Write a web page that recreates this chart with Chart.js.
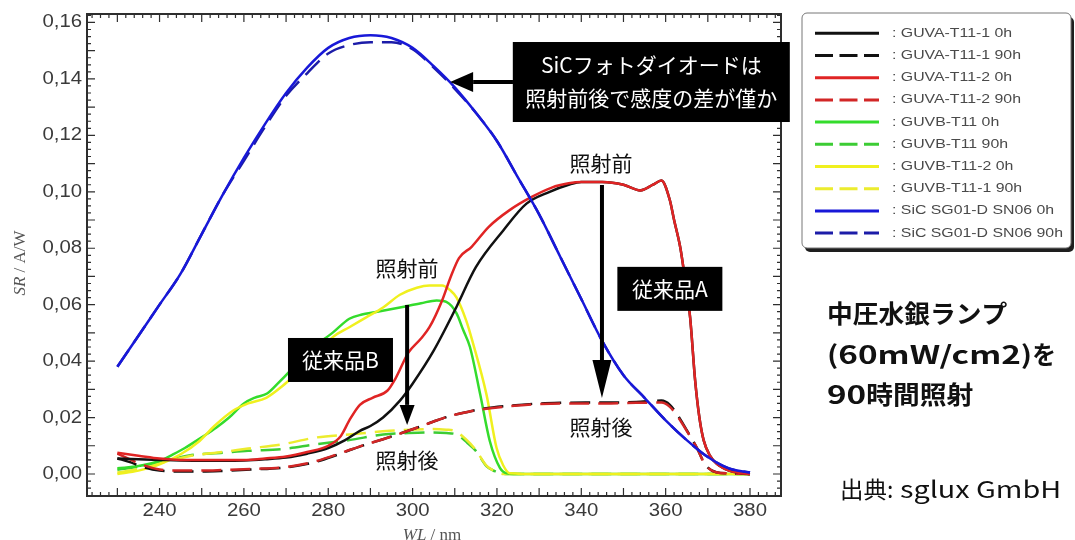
<!DOCTYPE html>
<html lang="ja">
<head>
<meta charset="utf-8">
<title>SR / A/W</title>
<script src="https://cdn.jsdelivr.net/npm/chart.js@4.4.1/dist/chart.umd.min.js"></script>
<style>
  html, body { margin: 0; padding: 0; background: #fff; }
  canvas { display: block; }
</style>
</head>
<body>
<canvas id="sr" width="1075" height="540"></canvas>
<script>
// axis ticks
const xTicks = [240, 260, 280, 300, 320, 340, 360, 380];
const yTicks = [0, 0.02, 0.04, 0.06, 0.08, 0.10, 0.12, 0.14, 0.16];

// GUVA-T11-1
const guva1X0 = [230, 235, 240, 245, 250, 255, 260, 265, 270, 275, 280, 284, 287.5, 290, 293, 297, 300, 305, 310, 315, 321.5, 327, 332.5, 337, 340, 345, 350, 354, 357, 359, 361, 362, 363.5, 364.5, 365.8, 367, 368, 369, 370.5, 372.2, 375, 378, 380];
const guva1Y0 = [0.0055, 0.0052, 0.005, 0.0048, 0.0047, 0.0047, 0.0048, 0.0052, 0.0058, 0.0072, 0.0092, 0.012, 0.0153, 0.017, 0.020, 0.026, 0.032, 0.0437, 0.058, 0.0733, 0.0863, 0.0958, 0.100, 0.1025, 0.1035, 0.1035, 0.1025, 0.1005, 0.1025, 0.104, 0.097, 0.090, 0.080, 0.070, 0.0555, 0.033, 0.020, 0.012, 0.0065, 0.0035, 0.0012, 0.0003, 0];
const guva1X90 = [230, 233, 236, 240, 245, 250, 255, 262, 269, 273, 277, 281, 285, 289, 293, 297, 301, 305, 309, 313, 317, 323, 329, 335, 341, 347, 353, 359, 361, 363, 365, 367.4, 369.3, 372, 375, 380];
const guva1Y90 = [0.0055, 0.0042, 0.0025, 0.0012, 0.0009, 0.0009, 0.0011, 0.0016, 0.0022, 0.003, 0.0043, 0.0062, 0.0084, 0.0105, 0.0123, 0.0143, 0.0164, 0.0186, 0.0206, 0.022, 0.0232, 0.0242, 0.0249, 0.0252, 0.0253, 0.0253, 0.0255, 0.026, 0.0245, 0.0205, 0.0155, 0.0093, 0.0035, 0.0006, 0.0002, 0];

// GUVA-T11-2
const guva2X0 = [230, 235, 240, 245, 250, 255, 260, 265, 270, 275, 280, 283, 285, 287.5, 290.5, 294, 296, 299, 302, 304, 307, 309, 311, 314, 318, 323, 328, 333, 337, 340, 345, 350, 354, 357, 359, 361, 362, 363.5, 364.5, 365.8, 367, 368, 369, 370.5, 372.2, 375, 378, 380];
const guva2Y0 = [0.0075, 0.0065, 0.0055, 0.005, 0.005, 0.005, 0.005, 0.0055, 0.0062, 0.0078, 0.010, 0.0135, 0.019, 0.0245, 0.027, 0.0295, 0.034, 0.043, 0.048, 0.052, 0.0615, 0.0697, 0.0765, 0.0805, 0.0875, 0.0935, 0.098, 0.1015, 0.103, 0.1035, 0.1035, 0.1025, 0.1005, 0.1025, 0.104, 0.097, 0.090, 0.080, 0.070, 0.0555, 0.033, 0.020, 0.012, 0.0065, 0.0035, 0.0012, 0.0003, 0];
const guva2X90 = [230, 233, 236, 240, 245, 250, 255, 262, 269, 273, 277, 281, 285, 289, 293, 297, 301, 305, 309, 313, 317, 323, 329, 335, 341, 347, 353, 359, 361, 363, 365, 367.4, 369.3, 372, 375, 380];
const guva2Y90 = [0.0072, 0.0052, 0.0032, 0.0016, 0.0012, 0.0012, 0.0014, 0.0018, 0.0023, 0.0032, 0.0045, 0.0064, 0.0085, 0.0105, 0.0123, 0.0143, 0.0164, 0.0186, 0.0206, 0.022, 0.023, 0.024, 0.0247, 0.025, 0.025, 0.025, 0.0252, 0.0253, 0.0238, 0.020, 0.0153, 0.0093, 0.0035, 0.0006, 0.0002, 0];

// GUVB-T11
const guvbX0 = [230, 235, 240, 243, 246, 250, 253.5, 256.5, 260, 262.5, 265.5, 268, 271, 273.5, 276.5, 281, 285, 288, 291, 297, 302, 305.7, 308, 310.4, 312, 313.6, 316, 318.3, 320.7, 322.3, 326, 340, 360, 380];
const guvbY0 = [0.002, 0.0028, 0.0046, 0.0068, 0.0092, 0.013, 0.0165, 0.020, 0.025, 0.027, 0.0285, 0.032, 0.0366, 0.041, 0.045, 0.050, 0.055, 0.0565, 0.0573, 0.059, 0.0605, 0.0615, 0.061, 0.057, 0.051, 0.045, 0.0284, 0.0117, 0.0022, 0.0003, 0, 0, 0, 0];
const guvbX90 = [230, 235, 240, 247, 255, 261, 269, 277, 285, 293, 299, 304, 308, 310.4, 313, 315, 317.5, 319.5, 321.5, 330, 380];
const guvbY90 = [0.0015, 0.0025, 0.004, 0.0066, 0.0075, 0.0082, 0.0088, 0.0105, 0.012, 0.014, 0.0145, 0.0147, 0.0145, 0.014, 0.011, 0.0082, 0.0028, 0.001, 0, 0, 0];

// GUVB-T11-2 / GUVB-T11-1
const guvb2X0 = [230, 235, 240, 245, 249.5, 253, 257.4, 261, 265.3, 269, 273.2, 277, 281, 285, 289, 293, 297, 301, 304, 307, 309, 310.4, 312.8, 314.2, 317.5, 319.9, 321.5, 323, 330, 340, 360, 380];
const guvb2Y0 = [0.0, 0.0012, 0.0034, 0.007, 0.0117, 0.017, 0.0224, 0.025, 0.027, 0.031, 0.0366, 0.042, 0.0484, 0.052, 0.0555, 0.059, 0.0635, 0.066, 0.0668, 0.0668, 0.065, 0.0626, 0.054, 0.047, 0.0283, 0.0093, 0.003, 0.0003, 0, 0, 0, 0];
const guvb1X90 = [230, 235, 240, 247, 255, 261, 269, 277, 285, 294.6, 300, 304.8, 308, 310, 312.5, 315, 317.5, 319.5, 321.5, 330, 380];
const guvb1Y90 = [0.0005, 0.0018, 0.0038, 0.0063, 0.0078, 0.009, 0.0105, 0.0129, 0.014, 0.0153, 0.0157, 0.0159, 0.0157, 0.0153, 0.0125, 0.0085, 0.003, 0.001, 0, 0, 0];

// SiC SG01-D SN06
const sicX = [230, 235, 240, 245, 250, 255, 260, 265, 270, 275, 280, 285, 290, 295, 300, 305, 310, 315, 320, 325, 330, 335, 340, 345, 350, 355, 360, 365, 370, 375, 380];
const sicY0 = [0.038, 0.049, 0.060, 0.071, 0.085, 0.099, 0.112, 0.124, 0.135, 0.144, 0.151, 0.1545, 0.1555, 0.1545, 0.151, 0.1445, 0.137, 0.128, 0.118, 0.105, 0.092, 0.077, 0.062, 0.047, 0.035, 0.027, 0.019, 0.012, 0.006, 0.002, 0.0005];
const sicY90 = [0.038, 0.049, 0.060, 0.071, 0.085, 0.099, 0.111, 0.123, 0.134, 0.142, 0.149, 0.152, 0.153, 0.153, 0.1505, 0.144, 0.1365, 0.128, 0.118, 0.105, 0.092, 0.077, 0.062, 0.047, 0.035, 0.027, 0.019, 0.012, 0.006, 0.002, 0.0005];

const CJK = '"Noto Sans CJK JP", "Noto Sans", sans-serif';
const DASH = [20, 9];

function pts(xs, ys) {
    return xs.map((v, i) => ({ x: v, y: ys[i] }));
}

function series(label, xs, ys, color, dashed, order) {
    return {
        label: label,
        data: pts(xs, ys),
        borderColor: color,
        borderWidth: 2.5,
        borderDash: dashed ? DASH : [],
        pointRadius: 0,
        fill: false,
        cubicInterpolationMode: 'monotone',
        order: order
    };
}

function stretched(ctx, text, x, y, sx, align) {
    ctx.save();
    ctx.translate(x, y);
    ctx.scale(sx, 1);
    ctx.textAlign = align;
    ctx.fillText(text, 0, 0);
    ctx.restore();
}

// draws [text, sx] pieces one after another, returns the end x
function pieces(ctx, parts, x, y) {
    parts.forEach(p => {
        stretched(ctx, p[0], x, y, p[1], 'left');
        x += ctx.measureText(p[0]).width * p[1];
    });
    return x;
}

function arrow(ctx, x1, y1, x2, y2, headLen, headW) {
    const ang = Math.atan2(y2 - y1, x2 - x1);
    const bx = x2 - headLen * Math.cos(ang), by = y2 - headLen * Math.sin(ang);
    ctx.beginPath();
    ctx.moveTo(x1, y1);
    ctx.lineTo(bx, by);
    ctx.stroke();
    ctx.beginPath();
    ctx.moveTo(x2, y2);
    ctx.lineTo(bx + headW / 2 * Math.sin(ang), by - headW / 2 * Math.cos(ang));
    ctx.lineTo(bx - headW / 2 * Math.sin(ang), by + headW / 2 * Math.cos(ang));
    ctx.closePath();
    ctx.fill();
}

// frame with inward ticks on all four sides, tick labels, axis titles
const axesFrame = {
    id: 'axesFrame',
    afterDatasetsDraw(chart) {
        const { ctx, chartArea: a, scales: { x, y } } = chart;
        ctx.save();
        ctx.strokeStyle = '#2e2e2e';
        ctx.lineWidth = 1.2;
        ctx.beginPath();
        for (let nm = 224; nm <= 386; nm += 2) {
            const px = x.getPixelForValue(nm);
            const len = nm % 10 === 0 ? 8 : 4;
            ctx.moveTo(px, a.bottom); ctx.lineTo(px, a.bottom - len);
            ctx.moveTo(px, a.top); ctx.lineTo(px, a.top + len);
        }
        for (let k = -3; k <= 65; k++) {
            const py = y.getPixelForValue(k * 0.0025);
            if (py < a.top + 1 || py > a.bottom - 1) continue;
            const len = k % 4 === 0 ? 8 : 4;
            ctx.moveTo(a.left, py); ctx.lineTo(a.left + len, py);
            ctx.moveTo(a.right, py); ctx.lineTo(a.right - len, py);
        }
        ctx.stroke();
        ctx.lineWidth = 2;
        ctx.strokeRect(a.left, a.top, a.right - a.left, a.bottom - a.top);

        ctx.fillStyle = '#3a3a3a';
        ctx.font = '18px "Liberation Sans", Arial, sans-serif';
        ctx.textBaseline = 'middle';
        yTicks.forEach(v => {
            stretched(ctx, v.toFixed(2).replace('.', ','), a.left - 5, y.getPixelForValue(v), 1.13, 'right');
        });
        xTicks.forEach(v => {
            stretched(ctx, String(v), x.getPixelForValue(v), a.bottom + 15, 1.13, 'center');
        });

        // axis titles
        ctx.fillStyle = '#555';
        const it = 'italic 17px "Liberation Serif", "DejaVu Serif", serif';
        const up = '17px "Liberation Serif", "DejaVu Serif", serif';
        ctx.save();
        ctx.translate(21, (a.top + a.bottom) / 2 + 8);
        ctx.rotate(-Math.PI / 2);
        ctx.font = it;
        const w1 = ctx.measureText('SR').width;
        ctx.font = up;
        const w2 = ctx.measureText(' / A/W').width;
        ctx.textAlign = 'left';
        ctx.font = it;
        ctx.fillText('SR', -(w1 + w2) / 2, 0);
        ctx.font = up;
        ctx.fillText(' / A/W', -(w1 + w2) / 2 + w1, 0);
        ctx.restore();

        ctx.textBaseline = 'top';
        ctx.textAlign = 'left';
        ctx.font = it;
        const v1 = ctx.measureText('WL').width;
        ctx.font = up;
        const v2 = ctx.measureText(' / nm').width;
        const cx = (a.left + a.right) / 2 - 2;
        ctx.font = it;
        ctx.fillText('WL', cx - (v1 + v2) / 2, a.bottom + 31);
        ctx.font = up;
        ctx.fillText(' / nm', cx - (v1 + v2) / 2 + v1, a.bottom + 31);
        ctx.restore();
    }
};

// legend box, notes and arrows
const notes = {
    id: 'notes',
    afterDraw(chart) {
        const { ctx, scales: { x, y } } = chart;
        ctx.save();

        // legend
        const lx = 802, ly = 13, lw = 269, lh = 235;
        ctx.fillStyle = '#1e1e1e';
        ctx.beginPath();
        ctx.roundRect(lx + 3, ly + 4, lw, lh, 5);
        ctx.fill();
        ctx.fillStyle = '#fff';
        ctx.strokeStyle = '#777';
        ctx.lineWidth = 1;
        ctx.beginPath();
        ctx.roundRect(lx, ly, lw, lh, 5);
        ctx.fill();
        ctx.stroke();
        ctx.font = '13px "Liberation Sans", Arial, sans-serif';
        ctx.textBaseline = 'middle';
        chart.data.datasets.forEach((ds, i) => {
            const ry = 33.3 + i * 22.2;
            ctx.strokeStyle = ds.borderColor;
            ctx.lineWidth = 3;
            ctx.setLineDash(ds.borderDash.length ? [18, 6.5] : []);
            ctx.beginPath();
            ctx.moveTo(815, ry);
            ctx.lineTo(879, ry);
            ctx.stroke();
            ctx.setLineDash([]);
            ctx.fillStyle = '#4a4a4a';
            stretched(ctx, ': ' + ds.label, 892, ry, 1.22, 'left');
        });

        // annotations
        ctx.strokeStyle = '#000';
        ctx.fillStyle = '#000';
        ctx.lineWidth = 4;
        const box = (nm, v, w, h) => {
            const cx = x.getPixelForValue(nm), cy = y.getPixelForValue(v);
            ctx.fillStyle = '#000';
            ctx.fillRect(cx - w / 2, cy - h / 2, w, h);
            return [cx, cy];
        };
        const say = (text, px, py, color) => {
            ctx.fillStyle = color;
            ctx.fillText(text, px, py);
        };
        ctx.font = '21px ' + CJK;
        ctx.textAlign = 'center';
        ctx.textBaseline = 'middle';

        let c = box(356.6, 0.1389, 277, 80);
        say('SiCフォトダイオードは', c[0], c[1] - 17, '#fff');
        say('照射前後で感度の差が僅か', c[0], c[1] + 16, '#fff');
        ctx.fillStyle = '#000';
        arrow(ctx, x.getPixelForValue(323.8), y.getPixelForValue(0.1389), x.getPixelForValue(308.9), y.getPixelForValue(0.1389), 23, 20);

        c = box(361, 0.0656, 105, 44);
        say('従来品A', c[0], c[1], '#fff');
        c = box(282.9, 0.0404, 105, 44);
        say('従来品B', c[0], c[1], '#fff');

        ctx.fillStyle = '#000';
        arrow(ctx, x.getPixelForValue(344.9), y.getPixelForValue(0.1024), x.getPixelForValue(344.9), y.getPixelForValue(0.0269), 38, 19);
        arrow(ctx, x.getPixelForValue(298.7), y.getPixelForValue(0.0599), x.getPixelForValue(298.7), y.getPixelForValue(0.0174), 20, 15);

        say('照射前', x.getPixelForValue(344.7), y.getPixelForValue(0.1102), '#111');
        say('照射後', x.getPixelForValue(344.7), y.getPixelForValue(0.0167), '#111');
        say('照射前', x.getPixelForValue(298.7), y.getPixelForValue(0.073), '#111');
        say('照射後', x.getPixelForValue(298.7), y.getPixelForValue(0.005), '#111');

        // side text
        ctx.fillStyle = '#111';
        ctx.font = 'bold 25px ' + CJK;
        pieces(ctx, [['中圧水銀ランプ', 1.03]], 827, 313);
        pieces(ctx, [['(', 1.2], ['60mW/cm2', 1.33], [')', 1.2], ['を', 0.95]], 827, 354);
        pieces(ctx, [['90', 1.33], ['時間照射', 1.07]], 827, 394);
        ctx.font = '23px ' + CJK;
        pieces(ctx, [['出典', 1.02], [':', 1.0]], 840, 489);
        pieces(ctx, [['sglux GmbH', 1.25]], 900, 489);
        ctx.restore();
    }
};

new Chart(document.getElementById('sr'), {
    type: 'line',
    data: {
        datasets: [
            series('GUVA-T11-1 0h', guva1X0, guva1Y0, '#111111', false, 3),
            series('GUVA-T11-1 90h', guva1X90, guva1Y90, '#111111', true, 5),
            series('GUVA-T11-2 0h', guva2X0, guva2Y0, '#e02424', false, 2),
            series('GUVA-T11-2 90h', guva2X90, guva2Y90, '#d22626', true, 4),
            series('GUVB-T11 0h', guvbX0, guvbY0, '#34dc2c', false, 7),
            series('GUVB-T11 90h', guvbX90, guvbY90, '#3ccc34', true, 9),
            series('GUVB-T11-2 0h', guvb2X0, guvb2Y0, '#f0f01e', false, 6),
            series('GUVB-T11-1 90h', guvb1X90, guvb1Y90, '#ecec2e', true, 8),
            series('SiC SG01-D SN06 0h', sicX, sicY0, '#1818d8', false, 0),
            series('SiC SG01-D SN06 90h', sicX, sicY90, '#1c1ca8', true, 1)
        ]
    },
    options: {
        responsive: false,
        animation: false,
        events: [],
        layout: { padding: { left: 87, top: 14, right: 294, bottom: 44 } },
        scales: {
            x: { type: 'linear', min: 222.8, max: 387.35, display: false },
            y: { type: 'linear', min: -0.0078, max: 0.163, display: false }
        },
        plugins: {
            legend: { display: false },
            tooltip: { enabled: false }
        }
    },
    plugins: [axesFrame, notes]
});
</script>
</body>
</html>
